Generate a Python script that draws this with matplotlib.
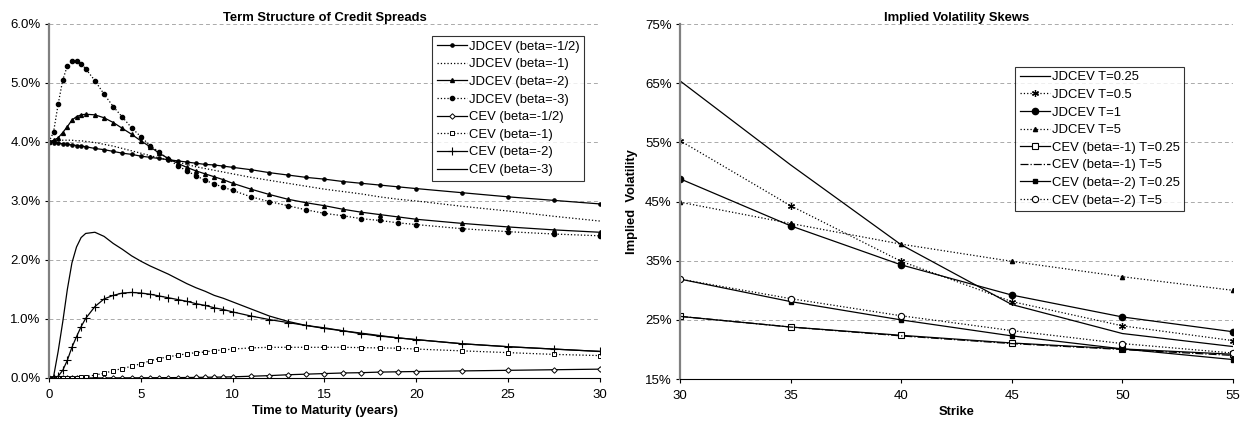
import matplotlib
matplotlib.use("Agg")
import matplotlib.pyplot as plt
from matplotlib.ticker import FuncFormatter, MultipleLocator

plt.rcParams['font.family'] = ['Liberation Sans', 'DejaVu Sans']

# ---- left panel: term structure of credit spreads (values in %) ----
t = [0, 0.25, 0.5, 0.75, 1, 1.25, 1.5, 1.75, 2,
     2.5, 3, 3.5, 4, 4.5, 5, 5.5, 6, 6.5, 7, 7.5, 8, 8.5, 9, 9.5, 10,
     11, 12, 13, 14, 15, 16, 17, 18, 19, 20, 22.5, 25, 27.5, 30]

jd_half = [4.00, 3.99, 3.98, 3.97, 3.96, 3.95, 3.94, 3.93, 3.92,
           3.89, 3.87, 3.84, 3.81, 3.79, 3.76, 3.74, 3.72, 3.70, 3.68, 3.66, 3.64, 3.62, 3.61, 3.59, 3.57,
           3.53, 3.48, 3.44, 3.40, 3.37, 3.33, 3.30, 3.27, 3.24, 3.21, 3.14, 3.07, 3.01, 2.95]
jd_1 = [4.00, 4.01, 4.02, 4.03, 4.03, 4.03, 4.02, 4.02, 4.01,
        3.99, 3.96, 3.93, 3.89, 3.85, 3.81, 3.77, 3.73, 3.69, 3.66, 3.62, 3.58, 3.55, 3.52, 3.49, 3.46,
        3.40, 3.35, 3.30, 3.25, 3.20, 3.16, 3.12, 3.07, 3.03, 3.00, 2.91, 2.83, 2.74, 2.66]
jd_2 = [4.00, 4.03, 4.07, 4.16, 4.26, 4.37, 4.43, 4.46, 4.47,
        4.46, 4.41, 4.33, 4.23, 4.13, 4.02, 3.92, 3.81, 3.72, 3.64, 3.57, 3.51, 3.46, 3.41, 3.36, 3.30,
        3.20, 3.11, 3.03, 2.97, 2.92, 2.86, 2.81, 2.77, 2.73, 2.69, 2.62, 2.56, 2.51, 2.47]
jd_3 = [4.00, 4.17, 4.64, 5.05, 5.29, 5.37, 5.37, 5.33, 5.24,
        5.04, 4.81, 4.60, 4.42, 4.24, 4.09, 3.94, 3.83, 3.71, 3.60, 3.51, 3.43, 3.35, 3.29, 3.23, 3.18,
        3.07, 2.99, 2.92, 2.85, 2.79, 2.75, 2.70, 2.67, 2.63, 2.60, 2.53, 2.48, 2.44, 2.41]
cev_half = [0, 0, 0, 0, 0, 0, 0, 0, 0,
            0.001, 0.001, 0.002, 0.002, 0.003, 0.003, 0.004, 0.005, 0.006, 0.007, 0.008, 0.010, 0.012, 0.014, 0.017, 0.020,
            0.030, 0.040, 0.055, 0.065, 0.075, 0.085, 0.090, 0.100, 0.105, 0.110, 0.120, 0.130, 0.140, 0.150]
cev_1 = [0, 0, 0, 0, 0.001, 0.003, 0.006, 0.010, 0.020,
         0.05, 0.08, 0.125, 0.16, 0.20, 0.24, 0.29, 0.33, 0.36, 0.385, 0.41, 0.43, 0.44, 0.465, 0.475, 0.49,
         0.51, 0.52, 0.52, 0.52, 0.52, 0.52, 0.515, 0.51, 0.505, 0.49, 0.46, 0.43, 0.40, 0.38]
cev_2 = [0, 0, 0.03, 0.13, 0.30, 0.52, 0.70, 0.87, 1.01,
         1.21, 1.34, 1.40, 1.44, 1.45, 1.44, 1.42, 1.39, 1.36, 1.33, 1.30, 1.26, 1.23, 1.19, 1.16, 1.12,
         1.05, 0.99, 0.94, 0.89, 0.84, 0.80, 0.75, 0.71, 0.68, 0.65, 0.58, 0.53, 0.49, 0.45]
cev_3 = [0, 0.02, 0.45, 0.95, 1.50, 1.95, 2.22, 2.38, 2.45,
         2.47, 2.40, 2.28, 2.18, 2.07, 1.98, 1.90, 1.83, 1.76, 1.68, 1.60, 1.53, 1.47, 1.40, 1.35, 1.29,
         1.17, 1.05, 0.96, 0.89, 0.85, 0.80, 0.76, 0.72, 0.68, 0.65, 0.58, 0.53, 0.49, 0.45]

# ---- right panel: implied volatility skews (values in %) ----
strikes = [30, 35, 40, 45, 50, 55]
jd_T025 = [65.4, 51.2, 37.7, 27.6, 22.7, 20.5]
jd_T05 = [55.3, 44.3, 34.9, 28.1, 24.0, 21.5]
jd_T1 = [48.85, 40.9, 34.3, 29.2, 25.5, 23.0]
jd_T5 = [44.9, 41.3, 37.8, 34.9, 32.3, 30.0]
cev1_T025 = [25.6, 23.8, 22.4, 21.1, 20.1, 19.2]
cev1_T5 = [25.6, 23.8, 22.3, 21.0, 20.0, 19.0]
cev2_T025 = [31.9, 28.1, 25.0, 22.3, 20.1, 18.3]
cev2_T5 = [31.9, 28.6, 25.7, 23.2, 21.0, 19.4]
vol_ticks = [15, 25, 35, 45, 55, 65, 75]

fig = plt.figure(figsize=(12.49, 4.25), dpi=100)
ax1 = fig.add_axes([0.0392, 0.1106, 0.4412, 0.833])
ax2 = fig.add_axes([0.5444, 0.108, 0.4428, 0.8355])

k = dict(color='black', lw=0.9)
ax1.plot(t, jd_half, '-', marker='o', ms=2.3, label='JDCEV (beta=-1/2)', **k)
ax1.plot(t, jd_1, ':', label='JDCEV (beta=-1)', **k)
ax1.plot(t, jd_2, '-', marker='^', ms=2.8, label='JDCEV (beta=-2)', **k)
ax1.plot(t, jd_3, ':', marker='o', ms=3.0, label='JDCEV (beta=-3)', **k)
ax1.plot(t, cev_half, '-', marker='D', ms=2.8, mfc='white', mew=0.7, label='CEV (beta=-1/2)', **k)
ax1.plot(t, cev_1, ':', marker='s', ms=3.2, mfc='white', mew=0.7, label='CEV (beta=-1)', **k)
ax1.plot(t, cev_2, '-', marker='+', ms=5.5, mew=0.8, label='CEV (beta=-2)', **k)
ax1.plot(t, cev_3, '-', label='CEV (beta=-3)', **k)

ax2.plot(strikes, jd_T025, '-', label='JDCEV T=0.25', **k)
ax2.plot(strikes, jd_T05, ':', marker=(6, 2, 0), ms=5, mew=0.9, label='JDCEV T=0.5', **k)
ax2.plot(strikes, jd_T1, '-', marker='o', ms=4.5, label='JDCEV T=1', **k)
ax2.plot(strikes, jd_T5, ':', marker='^', ms=3, label='JDCEV T=5', **k)
ax2.plot(strikes, cev1_T025, '-', marker='s', ms=4.5, mfc='white', mew=0.8, label='CEV (beta=-1) T=0.25', **k)
ax2.plot(strikes, cev1_T5, '-.', label='CEV (beta=-1) T=5', **k)
ax2.plot(strikes, cev2_T025, '-', marker='s', ms=3.2, label='CEV (beta=-2) T=0.25', **k)
ax2.plot(strikes, cev2_T5, ':', marker='o', ms=4.5, mfc='white', mew=0.8, label='CEV (beta=-2) T=5', **k)

ax1.set_xlim(0, 30)
ax1.set_ylim(0, 6)
ax1.xaxis.set_major_locator(MultipleLocator(5))
ax1.yaxis.set_major_locator(MultipleLocator(1))
ax1.yaxis.set_major_formatter(FuncFormatter(lambda v, p: '%.1f%%' % v))
ax1.set_title('Term Structure of Credit Spreads', fontsize=9.4, fontweight='bold', pad=2)
ax1.set_xlabel('Time to Maturity (years)', fontsize=9.4, fontweight='bold', labelpad=3)

ax2.set_xlim(30, 55)
ax2.set_ylim(15, 75)
ax2.xaxis.set_major_locator(MultipleLocator(5))
ax2.set_yticks(vol_ticks)
ax2.yaxis.set_major_formatter(FuncFormatter(lambda v, p: '%d%%' % v))
ax2.set_title('Implied Volatility Skews', fontsize=9.4, fontweight='bold', pad=2)
ax2.set_xlabel('Strike', fontsize=9.4, fontweight='bold', labelpad=3)
ax2.set_ylabel('Implied  Volatility', fontsize=9.4, fontweight='bold', labelpad=5)

for ax in (ax1, ax2):
    ax.grid(axis='y', ls=(0, (4, 3)), color='#aaaaaa', lw=0.7)
    ax.set_axisbelow(True)
    for s in ('top', 'right'):
        ax.spines[s].set_visible(False)
    ax.spines['left'].set_color('#808080')
    ax.spines['left'].set_linewidth(1.6)
    ax.spines['bottom'].set_color('black')
    ax.spines['bottom'].set_linewidth(0.8)
    ax.tick_params(axis='y', labelsize=9.5, direction='out', length=3, width=0.8, pad=3)
    ax.tick_params(axis='x', labelsize=9.5, direction='out', length=3, width=0.8, pad=5)

leg_kw = dict(loc='upper left', fontsize=9.4, frameon=True, fancybox=False, edgecolor='black',
              handlelength=2.3, handletextpad=0.15, labelspacing=0.42, borderpad=0.35,
              borderaxespad=0)
leg1 = ax1.legend(bbox_to_anchor=(0.696, 0.966), **leg_kw)
leg1.get_frame().set_linewidth(0.8)
leg2 = ax2.legend(bbox_to_anchor=(0.606, 0.88), **leg_kw)
leg2.get_frame().set_linewidth(0.8)

fig.savefig('out.png', dpi=100)
